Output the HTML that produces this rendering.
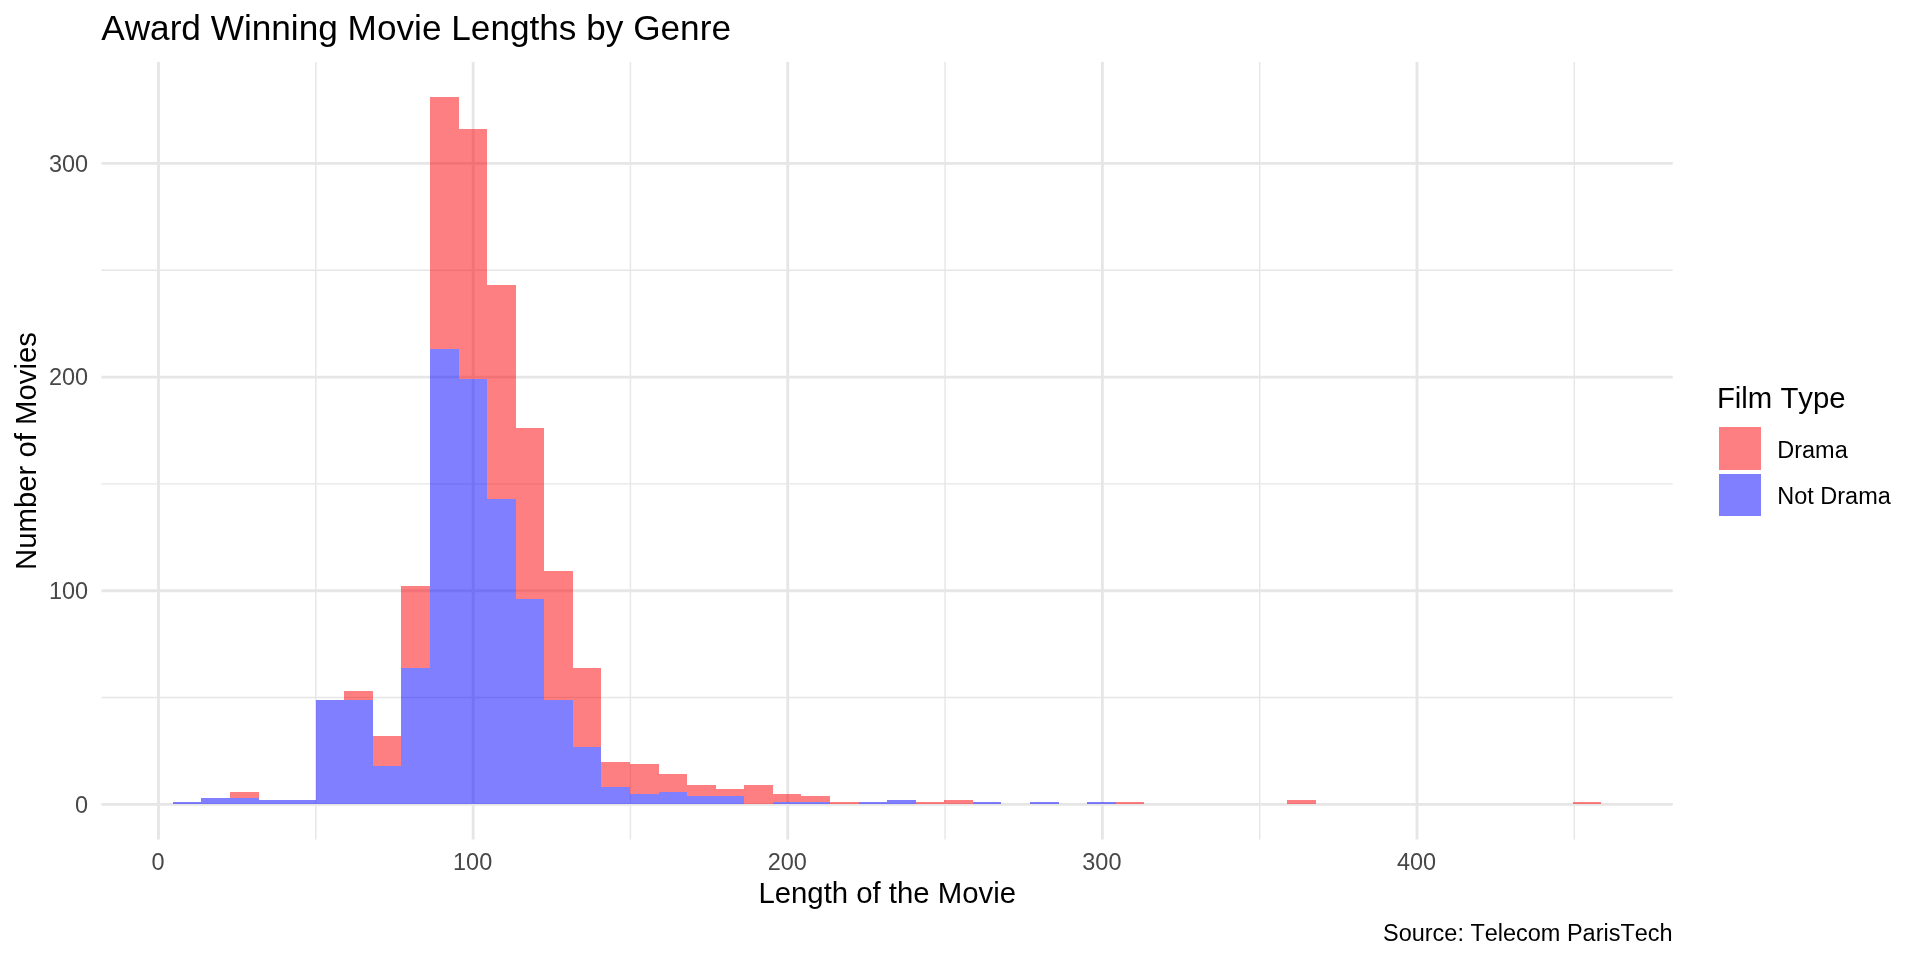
<!DOCTYPE html>
<html><head><meta charset="utf-8"><title>Award Winning Movie Lengths by Genre</title>
<style>
html,body{margin:0;padding:0;background:#fff;}
body{width:1920px;height:960px;overflow:hidden;}
svg{display:block;will-change:transform;}
text{font-family:"Liberation Sans",sans-serif;font-kerning:none;}
.ax{font-size:23.47px;fill:#474747;}
.t{font-size:35.2px;fill:#000;}
.at{font-size:29.33px;fill:#000;}
.lt{font-size:29.33px;fill:#000;}
.ll{font-size:23.47px;fill:#000;}
.cap{font-size:23.47px;fill:#000;}
</style></head><body>
<svg width="1920" height="960" viewBox="0 0 1920 960">
<rect width="1920" height="960" fill="#fff"/>
<g stroke="#e6e6e6" fill="none">
<line x1="315.81" x2="315.81" y1="62.0" y2="839.4" stroke-width="1.42"/>
<line x1="630.44" x2="630.44" y1="62.0" y2="839.4" stroke-width="1.42"/>
<line x1="945.06" x2="945.06" y1="62.0" y2="839.4" stroke-width="1.42"/>
<line x1="1259.69" x2="1259.69" y1="62.0" y2="839.4" stroke-width="1.42"/>
<line x1="1574.31" x2="1574.31" y1="62.0" y2="839.4" stroke-width="1.42"/>
<line y1="697.56" y2="697.56" x1="101.5" x2="1672.75" stroke-width="1.42"/>
<line y1="483.89" y2="483.89" x1="101.5" x2="1672.75" stroke-width="1.42"/>
<line y1="270.23" y2="270.23" x1="101.5" x2="1672.75" stroke-width="1.42"/>
<line x1="158.50" x2="158.50" y1="62.0" y2="839.4" stroke-width="2.84"/>
<line x1="473.12" x2="473.12" y1="62.0" y2="839.4" stroke-width="2.84"/>
<line x1="787.75" x2="787.75" y1="62.0" y2="839.4" stroke-width="2.84"/>
<line x1="1102.38" x2="1102.38" y1="62.0" y2="839.4" stroke-width="2.84"/>
<line x1="1417.00" x2="1417.00" y1="62.0" y2="839.4" stroke-width="2.84"/>
<line y1="804.40" y2="804.40" x1="101.5" x2="1672.75" stroke-width="2.84"/>
<line y1="590.73" y2="590.73" x1="101.5" x2="1672.75" stroke-width="2.84"/>
<line y1="377.06" y2="377.06" x1="101.5" x2="1672.75" stroke-width="2.84"/>
<line y1="163.39" y2="163.39" x1="101.5" x2="1672.75" stroke-width="2.84"/>
</g>
<g fill-opacity="0.5" shape-rendering="crispEdges">
<rect x="173" y="802" width="28" height="2" fill="#0000ff"/>
<rect x="201" y="798" width="29" height="6" fill="#0000ff"/>
<rect x="230" y="792" width="29" height="6" fill="#fb0005"/>
<rect x="230" y="798" width="29" height="6" fill="#0000ff"/>
<rect x="259" y="800" width="28" height="4" fill="#0000ff"/>
<rect x="287" y="800" width="29" height="4" fill="#0000ff"/>
<rect x="316" y="700" width="28" height="104" fill="#0000ff"/>
<rect x="344" y="691" width="29" height="9" fill="#fb0005"/>
<rect x="344" y="700" width="29" height="104" fill="#0000ff"/>
<rect x="373" y="736" width="28" height="30" fill="#fb0005"/>
<rect x="373" y="766" width="28" height="38" fill="#0000ff"/>
<rect x="401" y="586" width="29" height="82" fill="#fb0005"/>
<rect x="401" y="668" width="29" height="136" fill="#0000ff"/>
<rect x="430" y="97" width="29" height="252" fill="#fb0005"/>
<rect x="430" y="349" width="29" height="455" fill="#0000ff"/>
<rect x="459" y="129" width="28" height="250" fill="#fb0005"/>
<rect x="459" y="379" width="28" height="425" fill="#0000ff"/>
<rect x="487" y="285" width="29" height="214" fill="#fb0005"/>
<rect x="487" y="499" width="29" height="305" fill="#0000ff"/>
<rect x="516" y="428" width="28" height="171" fill="#fb0005"/>
<rect x="516" y="599" width="28" height="205" fill="#0000ff"/>
<rect x="544" y="571" width="29" height="129" fill="#fb0005"/>
<rect x="544" y="700" width="29" height="104" fill="#0000ff"/>
<rect x="573" y="668" width="28" height="79" fill="#fb0005"/>
<rect x="573" y="747" width="28" height="57" fill="#0000ff"/>
<rect x="601" y="762" width="29" height="25" fill="#fb0005"/>
<rect x="601" y="787" width="29" height="17" fill="#0000ff"/>
<rect x="630" y="764" width="29" height="30" fill="#fb0005"/>
<rect x="630" y="794" width="29" height="10" fill="#0000ff"/>
<rect x="659" y="774" width="28" height="18" fill="#fb0005"/>
<rect x="659" y="792" width="28" height="12" fill="#0000ff"/>
<rect x="687" y="785" width="29" height="11" fill="#fb0005"/>
<rect x="687" y="796" width="29" height="8" fill="#0000ff"/>
<rect x="716" y="789" width="28" height="7" fill="#fb0005"/>
<rect x="716" y="796" width="28" height="8" fill="#0000ff"/>
<rect x="744" y="785" width="29" height="19" fill="#fb0005"/>
<rect x="773" y="794" width="28" height="8" fill="#fb0005"/>
<rect x="773" y="802" width="28" height="2" fill="#0000ff"/>
<rect x="801" y="796" width="29" height="6" fill="#fb0005"/>
<rect x="801" y="802" width="29" height="2" fill="#0000ff"/>
<rect x="830" y="802" width="29" height="2" fill="#fb0005"/>
<rect x="859" y="802" width="28" height="2" fill="#0000ff"/>
<rect x="887" y="800" width="29" height="4" fill="#0000ff"/>
<rect x="916" y="802" width="28" height="2" fill="#fb0005"/>
<rect x="944" y="800" width="29" height="4" fill="#fb0005"/>
<rect x="973" y="802" width="28" height="2" fill="#0000ff"/>
<rect x="1030" y="802" width="29" height="2" fill="#0000ff"/>
<rect x="1087" y="802" width="29" height="2" fill="#0000ff"/>
<rect x="1116" y="802" width="28" height="2" fill="#fb0005"/>
<rect x="1287" y="800" width="29" height="4" fill="#fb0005"/>
<rect x="1573" y="802" width="28" height="2" fill="#fb0005"/>
</g>
<text x="101.2" y="40" class="t">Award Winning Movie Lengths by Genre</text>
<text x="158.00" y="870" text-anchor="middle" class="ax">0</text>
<text x="472.62" y="870" text-anchor="middle" class="ax">100</text>
<text x="787.25" y="870" text-anchor="middle" class="ax">200</text>
<text x="1101.88" y="870" text-anchor="middle" class="ax">300</text>
<text x="1416.50" y="870" text-anchor="middle" class="ax">400</text>
<text x="88.1" y="812.70" text-anchor="end" class="ax">0</text>
<text x="88.1" y="599.03" text-anchor="end" class="ax">100</text>
<text x="88.1" y="385.36" text-anchor="end" class="ax">200</text>
<text x="88.1" y="171.69" text-anchor="end" class="ax">300</text>
<text x="887.2" y="903.3" text-anchor="middle" class="at">Length of the Movie</text>
<text transform="translate(35.5,451) rotate(-90)" text-anchor="middle" class="at">Number of Movies</text>
<text x="1716.9" y="408.4" class="lt">Film Type</text>
<g fill-opacity="0.5" shape-rendering="crispEdges">
<rect x="1719" y="427" width="42" height="43" fill="#fb0005"/>
<rect x="1719" y="474" width="42" height="42" fill="#0000ff"/>
</g>
<text x="1777.3" y="457.7" class="ll">Drama</text>
<text x="1777.3" y="504" class="ll">Not Drama</text>
<text x="1672.6" y="940.8" text-anchor="end" class="cap">Source: Telecom ParisTech</text>
</svg>
</body></html>
